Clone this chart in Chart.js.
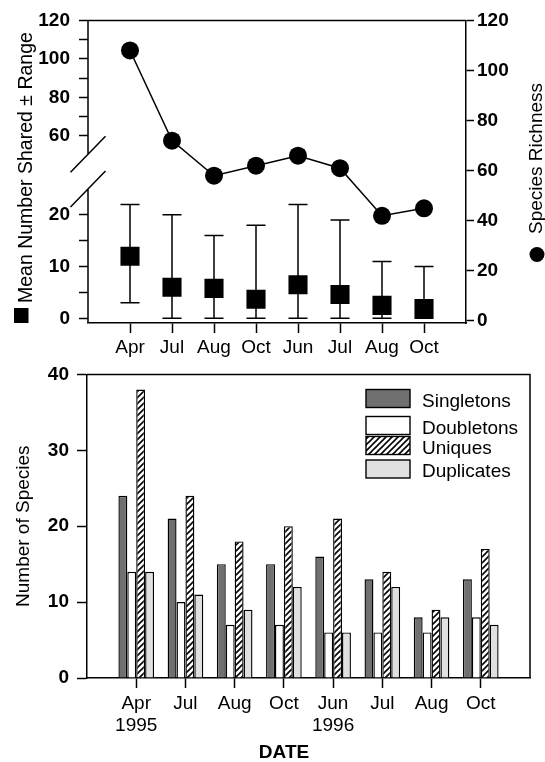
<!DOCTYPE html>
<html>
<head>
<meta charset="utf-8">
<script src="https://cdn.jsdelivr.net/npm/chart.js@4.4.0/dist/chart.umd.min.js"></script>
<style>
  html, body { margin: 0; padding: 0; background: #fff; }
  #wrap { position: relative; width: 545px; height: 762px; }
  canvas { position: absolute; left: 0; }
  #top { top: 0; }
  #bottom { top: 355px; }
</style>
</head>
<body>
<div id="wrap">
  <canvas id="top" width="545" height="370"></canvas>
  <canvas id="bottom" width="545" height="407"></canvas>
</div>
<script>
// sampling dates
const months = ["Apr", "Jul", "Aug", "Oct", "Jun", "Jul", "Aug", "Oct"]
const years = ["1995", "", "", "", "1996", "", "", ""]
const samplePos = [1, 2, 3, 4, 5, 6, 7, 8]

// top panel
const speciesRichness = [108, 72, 58, 62, 66, 61, 42, 45]
const meanShared = [12, 6, 5.8, 3.7, 6.5, 4.6, 2.5, 1.9]
const sharedMin = [3, 0, 0, 0, 0, 0, 0, 0]
const sharedMax = [22, 20, 16, 18, 22, 19, 11, 10]
const richnessTicks = [0, 20, 40, 60, 80, 100, 120]
const sharedLowTicks = [0, 5, 10, 15, 20]
const sharedHighTicks = [60, 70, 80, 90, 100, 110, 120]
const sharedLabeled = [0, 10, 20, 60, 80, 100, 120]

// bottom panel
const singletons = [24, 21, 15, 15, 16, 13, 8, 13]
const doubletons = [14, 10, 7, 7, 6, 6, 6, 8]
const uniques = [38, 24, 18, 20, 21, 14, 9, 17]
const duplicates = [14, 11, 9, 12, 6, 12, 8, 7]
const speciesTicks = [0, 10, 20, 30, 40]

const FONT = '"Liberation Sans", Arial, Helvetica, sans-serif'
Chart.defaults.font.family = FONT
Chart.defaults.color = "#000"

// left axis of the top panel is broken: 0-25 at full scale, 60-120 compressed above
const BREAK_BASE = 35.3
const BREAK_RATIO = 0.3714
const GAP_LOW = 25
const GAP_HIGH = 31.7
const brokenPos = (v) => (v < 40 ? v : BREAK_BASE + (v - 60) * BREAK_RATIO)
const leftTicks = [...sharedLowTicks, ...sharedHighTicks].map((v) => ({
  pos: brokenPos(v),
  label: sharedLabeled.includes(v) ? String(v) : "",
}))

const xLabels = months.map((m, i) => (years[i] ? [m, years[i]] : m))

const errorBars = {
  id: "errorBars",
  beforeDatasetsDraw(chart) {
    const { ctx, scales } = chart
    ctx.save()
    ctx.strokeStyle = "#000"
    ctx.lineWidth = 1.5
    samplePos.forEach((p, i) => {
      const x = scales.x.getPixelForValue(p)
      const y0 = scales.y.getPixelForValue(sharedMin[i])
      const y1 = scales.y.getPixelForValue(sharedMax[i])
      ctx.beginPath()
      ctx.moveTo(x, y0)
      ctx.lineTo(x, y1)
      ctx.moveTo(x - 9.5, y0)
      ctx.lineTo(x + 9.5, y0)
      ctx.moveTo(x - 9.5, y1)
      ctx.lineTo(x + 9.5, y1)
      ctx.stroke()
    })
    ctx.restore()
  },
}

const topFrame = {
  id: "topFrame",
  afterDraw(chart) {
    const { ctx, chartArea: a, scales } = chart
    const yHi = scales.y.getPixelForValue(GAP_HIGH)
    const yLo = scales.y.getPixelForValue(GAP_LOW)
    ctx.save()
    ctx.strokeStyle = "#000"
    ctx.lineWidth = 1.5
    ctx.beginPath()
    ctx.moveTo(a.left, a.top)
    ctx.lineTo(a.right, a.top)
    ctx.moveTo(a.left, a.top)
    ctx.lineTo(a.left, yHi)
    ctx.moveTo(a.left, yLo)
    ctx.lineTo(a.left, a.bottom)
    // break marks
    ctx.moveTo(a.left - 17.5, yHi + 18)
    ctx.lineTo(a.left + 17.5, yHi - 18)
    ctx.moveTo(a.left - 17.5, yLo + 18)
    ctx.lineTo(a.left + 17.5, yLo - 18)
    ctx.stroke()

    // axis titles with their marker symbols
    ctx.fillStyle = "#000"
    ctx.font = "19.5px " + FONT
    ctx.textAlign = "left"
    ctx.textBaseline = "alphabetic"
    ctx.fillRect(14, 308, 14.5, 15)
    ctx.save()
    ctx.translate(32, 303)
    ctx.rotate(-Math.PI / 2)
    ctx.fillText("Mean Number Shared \u00b1 Range", 0, 0)
    ctx.restore()
    ctx.beginPath()
    ctx.arc(537, 254.5, 7.5, 0, Math.PI * 2)
    ctx.fill()
    ctx.font = "19px " + FONT
    ctx.save()
    ctx.translate(541.5, 234)
    ctx.rotate(-Math.PI / 2)
    ctx.fillText("Species Richness", 0, 0)
    ctx.restore()
    ctx.restore()
  },
}

new Chart(document.getElementById("top"), {
  type: "line",
  data: {
    datasets: [
      {
        label: "Species Richness",
        data: samplePos.map((x, i) => ({ x, y: speciesRichness[i] })),
        yAxisID: "y2",
        borderColor: "#000",
        borderWidth: 1.5,
        backgroundColor: "#000",
        pointStyle: "circle",
        pointRadius: 9,
        pointBorderWidth: 0,
        tension: 0,
      },
      {
        label: "Mean Number Shared",
        data: samplePos.map((x, i) => ({ x, y: meanShared[i] })),
        yAxisID: "y",
        showLine: false,
        backgroundColor: "#000",
        borderColor: "#000",
        pointStyle: "rect",
        pointRadius: 13.5,
        pointBorderWidth: 0,
      },
    ],
  },
  options: {
    responsive: false,
    animation: false,
    layout: { padding: { top: 16, left: 0, right: 0, bottom: 0 } },
    plugins: { legend: { display: false }, tooltip: { enabled: false } },
    scales: {
      x: {
        type: "linear",
        min: 0,
        max: 9,
        offset: false,
        afterBuildTicks: (s) => { s.ticks = samplePos.map((v) => ({ value: v })) },
        afterFit: (s) => { s.height = 47 },
        grid: { drawOnChartArea: false, tickLength: 10, tickWidth: 1.5, tickColor: "#000" },
        border: { color: "#000", width: 1.5 },
        ticks: {
          callback: (v, i) => months[i],
          font: { size: 19 },
          padding: 3,
          autoSkip: false,
          maxRotation: 0,
        },
      },
      y: {
        position: "left",
        min: -0.9,
        max: brokenPos(120),
        afterBuildTicks: (s) => { s.ticks = leftTicks.map((t) => ({ value: t.pos })) },
        afterFit: (s) => { s.width = 88 },
        grid: { drawOnChartArea: false, tickLength: 9, tickWidth: 1.5, tickColor: "#000" },
        border: { display: false },
        ticks: {
          callback: (v, i) => leftTicks[i].label,
          font: { size: 19, weight: "bold" },
          padding: 9,
          autoSkip: false,
        },
      },
      y2: {
        position: "right",
        min: -0.8,
        max: 120,
        afterBuildTicks: (s) => { s.ticks = richnessTicks.map((v) => ({ value: v })) },
        afterFit: (s) => { s.width = 79 },
        grid: { drawOnChartArea: false, tickLength: 8, tickWidth: 1.5, tickColor: "#000" },
        border: { color: "#000", width: 1.5 },
        ticks: {
          font: { size: 19, weight: "bold" },
          padding: 3,
          autoSkip: false,
        },
      },
    },
  },
  plugins: [errorBars, topFrame],
})

// hatched fill for "Uniques"
const bottomCanvas = document.getElementById("bottom")
const tile = document.createElement("canvas")
tile.width = 6
tile.height = 6
const tctx = tile.getContext("2d")
tctx.fillStyle = "#fff"
tctx.fillRect(0, 0, 6, 6)
tctx.strokeStyle = "#000"
tctx.lineWidth = 1.6
tctx.beginPath()
tctx.moveTo(-1, 7)
tctx.lineTo(7, -1)
tctx.moveTo(-1, 1)
tctx.lineTo(1, -1)
tctx.moveTo(5, 7)
tctx.lineTo(7, 5)
tctx.stroke()
const hatch = bottomCanvas.getContext("2d").createPattern(tile, "repeat")

const barLegend = {
  id: "barLegend",
  afterDraw(chart) {
    const { ctx, chartArea: a } = chart
    const rowTops = [34.5, 61.5, 81.5, 105]
    ctx.save()
    ctx.strokeStyle = "#000"
    ctx.lineWidth = 1.5
    ctx.beginPath()
    ctx.moveTo(a.left, a.top)
    ctx.lineTo(a.right, a.top)
    ctx.lineTo(a.right, a.bottom)
    ctx.stroke()

    ctx.font = "19px " + FONT
    ctx.textAlign = "left"
    ctx.textBaseline = "alphabetic"
    chart.data.datasets.forEach((ds, i) => {
      const top = rowTops[i]
      ctx.fillStyle = ds.backgroundColor
      ctx.fillRect(366, top, 44, 18)
      ctx.lineWidth = 1.4
      ctx.strokeRect(366, top, 44, 18)
      ctx.fillStyle = "#000"
      ctx.fillText(ds.label, 422, top + 17)
    })

    ctx.font = "bold 19px " + FONT
    ctx.textAlign = "center"
    ctx.fillText("DATE", 284, 403)
    ctx.restore()
  },
}

const barStyle = { borderColor: "#000", borderWidth: 1.4, categoryPercentage: 0.724, barPercentage: 1 }
const toPoints = (arr) => samplePos.map((x, i) => ({ x, y: arr[i] }))

new Chart(bottomCanvas, {
  type: "bar",
  data: {
    datasets: [
      { label: "Singletons", data: toPoints(singletons), backgroundColor: "#707070", ...barStyle },
      { label: "Doubletons", data: toPoints(doubletons), backgroundColor: "#ffffff", ...barStyle },
      { label: "Uniques", data: toPoints(uniques), backgroundColor: hatch, ...barStyle },
      { label: "Duplicates", data: toPoints(duplicates), backgroundColor: "#e0e0e0", ...barStyle },
    ],
  },
  options: {
    responsive: false,
    animation: false,
    layout: { padding: { top: 12, left: 0, right: 15, bottom: 0 } },
    plugins: { legend: { display: false }, tooltip: { enabled: false } },
    scales: {
      x: {
        type: "linear",
        min: 0,
        max: 9,
        offset: false,
        afterBuildTicks: (s) => { s.ticks = samplePos.map((v) => ({ value: v })) },
        afterFit: (s) => { s.height = 84 },
        grid: { drawOnChartArea: false, tickLength: 10, tickWidth: 1.5, tickColor: "#000", offset: false },
        border: { color: "#000", width: 1.5 },
        ticks: {
          callback: (v, i) => xLabels[i],
          font: { size: 19 },
          padding: 4,
          autoSkip: false,
          maxRotation: 0,
        },
      },
      y: {
        min: 0,
        max: 40,
        afterBuildTicks: (s) => { s.ticks = speciesTicks.map((v) => ({ value: v })) },
        afterFit: (s) => { s.width = 87 },
        grid: { drawOnChartArea: false, tickLength: 10, tickWidth: 1.5, tickColor: "#000" },
        border: { color: "#000", width: 1.5 },
        ticks: { font: { size: 19, weight: "bold" }, padding: 8, autoSkip: false },
        title: {
          display: true,
          text: "Number of Species",
          font: { size: 19 },
          padding: { top: 12, bottom: 0 },
        },
      },
    },
  },
  plugins: [barLegend],
})
</script>
</body>
</html>
